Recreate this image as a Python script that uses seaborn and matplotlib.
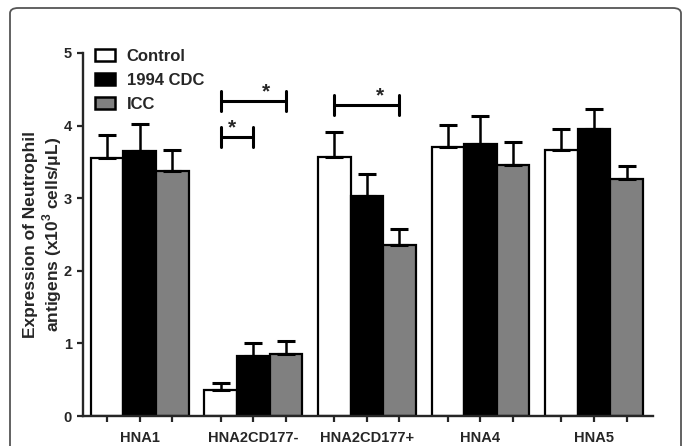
import numpy as np
import pandas as pd
import matplotlib
matplotlib.use("Agg")
import matplotlib.pyplot as plt
from matplotlib.patches import FancyBboxPatch, Patch
import seaborn as sns

# ---- data ----
antigens = ["HNA1", "HNA2CD177-", "HNA2CD177+", "HNA4", "HNA5"]
groups = ["Control", "1994 CDC", "ICC"]
control_mean = [3.55, 0.36, 3.57, 3.71, 3.66]
control_err = [0.32, 0.09, 0.34, 0.30, 0.30]
cdc_mean = [3.65, 0.83, 3.03, 3.75, 3.95]
cdc_err = [0.37, 0.17, 0.31, 0.38, 0.28]
icc_mean = [3.38, 0.86, 2.36, 3.46, 3.26]
icc_err = [0.28, 0.17, 0.21, 0.31, 0.19]
yticks = [0, 1, 2, 3, 4, 5]
ylabel_lines = ["Expression of Neutrophil",
                "antigens (x10$^{\\mathbf{3}}$ cells/μL)"]
# significance annotations: (category index, group a, group b, height)
sig_pairs = [(1, 0, 2, 4.34), (1, 0, 1, 3.84), (2, 0, 2, 4.28)]

means = [control_mean, cdc_mean, icc_mean]
errs = [control_err, cdc_err, icc_err]

df = pd.DataFrame({
    "antigen": np.repeat([antigens], 3, axis=0).ravel(),
    "group": np.repeat(groups, len(antigens)),
    "value": np.concatenate(means),
})

sns.set_style("ticks")
plt.rcParams["font.family"] = ["Liberation Sans", "DejaVu Sans"]
plt.rcParams["font.weight"] = "bold"
plt.rcParams["mathtext.fontset"] = "custom"
plt.rcParams["mathtext.rm"] = "Liberation Sans:bold"
plt.rcParams["mathtext.bf"] = "Liberation Sans:bold"

W, H = 683, 446
fig = plt.figure(figsize=(W / 100, H / 100), dpi=100)
ax = fig.add_axes([83 / W, (H - 416) / H, 570 / W, 363 / H])

palette = ["white", "black", "#808080"]
sns.barplot(data=df, x="antigen", y="value", hue="group", order=antigens,
            hue_order=groups, palette=palette, edgecolor="black",
            linewidth=1.6, width=0.86, errorbar=None, ax=ax, saturation=1)

# error bars (upper only)
centers = []
for cont, err in zip(ax.containers, errs):
    xs = [b.get_x() + b.get_width() / 2 for b in cont]
    ys = [b.get_height() for b in cont]
    centers.append(xs)
    ax.errorbar(xs, ys, yerr=[np.zeros(len(err)), err], fmt="none",
                ecolor="black", elinewidth=1.8, capsize=6.2, capthick=2.2,
                zorder=1)

ax.set_xlim(-0.5, 4.52)
ax.set_ylim(0, 5)
ax.set_yticks(yticks)
ax.set_yticklabels([str(t) for t in yticks])
ax.set_xlabel("")
ax.set_ylabel("")

# two-line y label
yc = 1 - ((53 + 416) / 2) / H
for line, xpix in zip(ylabel_lines, [31, 52]):
    fig.text(xpix / W, yc, line, rotation=90, ha="center", va="center",
             fontsize=12.5, fontweight="bold")

allx = sorted(x for xs in centers for x in xs)
ax.set_xticks(allx, minor=True)
ax.tick_params(axis="x", which="minor", direction="out", length=4, width=1.6)
ax.tick_params(axis="both", which="major", direction="out", length=4,
               width=1.6, labelsize=10.5, pad=4)
ax.tick_params(axis="x", which="major", pad=7)
for lab in ax.get_xticklabels() + ax.get_yticklabels():
    lab.set_fontweight("bold")
sns.despine(ax=ax)
for s in ["left", "bottom"]:
    ax.spines[s].set_linewidth(1.7)

# significance brackets
for ci, ga, gb, h in sig_pairs:
    xa, xb = centers[ga][ci], centers[gb][ci]
    ax.plot([xa, xb], [h, h], color="black", lw=2.2, solid_capstyle="butt")
    for xe in (xa, xb):
        ax.plot([xe, xe], [h - 0.14, h + 0.14], color="black", lw=2.2)
    xs_star = xa + (xb - xa) * (0.7 if gb == 2 else 0.35)
    ax.text(xs_star, h + 0.0, "*", ha="center", va="bottom",
            fontsize=15, fontweight="bold")

# legend
leg_handles = [Patch(facecolor=c, edgecolor="black", linewidth=1.8) for c in palette]
ax.legend(leg_handles, groups, loc="upper left", bbox_to_anchor=(12 / 570, 1.012),
          frameon=False, handlelength=1.2, handleheight=0.72,
          labelspacing=0.55, handletextpad=0.7, borderaxespad=0, borderpad=0,
          prop={"weight": "bold", "size": 12})

# outer rounded frame
frame = FancyBboxPatch((10 / W, -0.1), (681 - 10) / W, (H - 8) / H + 0.1,
                       boxstyle="round,pad=0,rounding_size=0.012",
                       transform=fig.transFigure, facecolor="none",
                       edgecolor="#555555", linewidth=1.3, clip_on=False)
fig.patches.append(frame)

fig.savefig("out.png", dpi=100)
